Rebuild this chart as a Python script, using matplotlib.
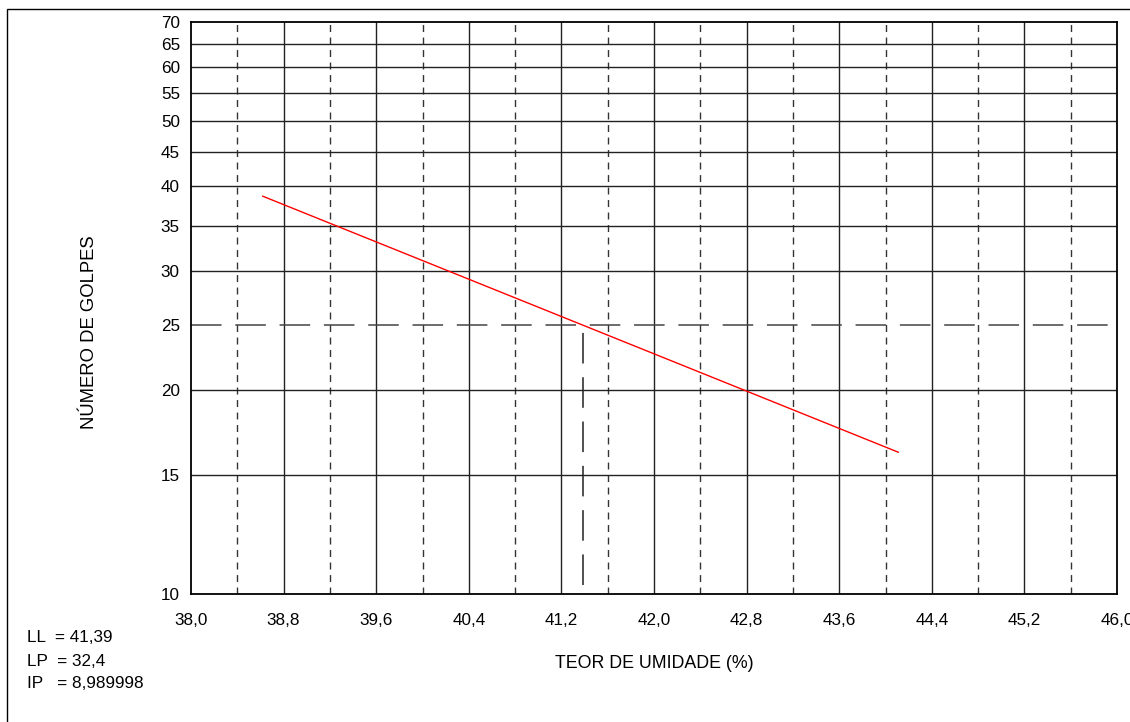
import matplotlib.pyplot as plt
import numpy as np
from matplotlib.patches import Rectangle
from matplotlib.ticker import FixedLocator, NullLocator, NullFormatter

plt.rcParams['font.family'] = ['Liberation Sans', 'DejaVu Sans']

# trend line (umidade x golpes)
umidade = [38.62, 44.11]
golpes = [38.7, 16.2]

LL = 41.39
LP = 32.4
IP = 8.989998

x_ticks = [38.0, 38.8, 39.6, 40.4, 41.2, 42.0, 42.8, 43.6, 44.4, 45.2, 46.0]
x_minor = [38.4, 39.2, 40.0, 40.8, 41.6, 42.4, 43.2, 44.0, 44.8, 45.6]
y_ticks = [10, 15, 20, 25, 30, 35, 40, 45, 50, 55, 60, 65, 70]

fs = 12.3

fig = plt.figure(figsize=(11.3, 7.22), dpi=100)
ax = fig.add_axes([191/1130, 1-594/722, (1117-191)/1130, (594-22)/722])

ax.set_yscale('log')
ax.set_xlim(38.0, 46.0)
ax.set_ylim(10, 70)

# grid
for x in x_ticks[1:-1]:
    ax.axvline(x, color='#222222', lw=1.0, zorder=1)
for x in x_minor:
    ax.axvline(x, color='#333333', lw=1.0, ls=(0, (5, 4)), zorder=1)
for y in y_ticks[1:-1]:
    if y != 25:
        ax.axhline(y, color='#222222', lw=1.0, zorder=1)

# LL construction lines
ax.axhline(25, color='#444444', lw=1.1, ls=(0, (20, 9)), zorder=2)
ax.plot([LL, LL], [10.3, 25], color='#222222', lw=1.1, ls=(0, (20, 9)), zorder=2)

ax.plot(umidade, golpes, color='red', lw=1.0, zorder=3)

ax.xaxis.set_major_locator(FixedLocator(x_ticks))
ax.set_xticklabels([f'{v:.1f}'.replace('.', ',') for v in x_ticks])
ax.yaxis.set_major_locator(FixedLocator(y_ticks))
ax.yaxis.set_minor_locator(NullLocator())
ax.yaxis.set_minor_formatter(NullFormatter())
ax.set_yticklabels([str(v) for v in y_ticks])
ax.tick_params(length=0, labelsize=fs, pad=8)
ax.tick_params(axis='x', pad=14)
for s in ax.spines.values():
    s.set_color('black')
    s.set_linewidth(1.3)

fig.text(654/1130, 1-663/722, 'TEOR DE UMIDADE (%)', ha='center', va='center', fontsize=fs + 0.5)
fig.text(90/1130, 1-332/722, 'NÚMERO DE GOLPES', ha='center', va='center',
         rotation=90, fontsize=fs + 1)

fig.text(27/1130, 1-638/722, f'LL  = {LL:.2f}'.replace('.', ','), va='center', fontsize=fs)
fig.text(27/1130, 1-661/722, f'LP  = {LP}'.replace('.', ','), va='center', fontsize=fs)
fig.text(27/1130, 1-683/722, f'IP   = {IP}'.replace('.', ','), va='center', fontsize=fs)

# outer frame
fig.patches.append(Rectangle((7/1130, -0.05), 1.1, 1-9/722+0.05, transform=fig.transFigure,
                             fill=False, edgecolor='black', lw=1.0))

fig.savefig('out.png', dpi=100, facecolor='white')
